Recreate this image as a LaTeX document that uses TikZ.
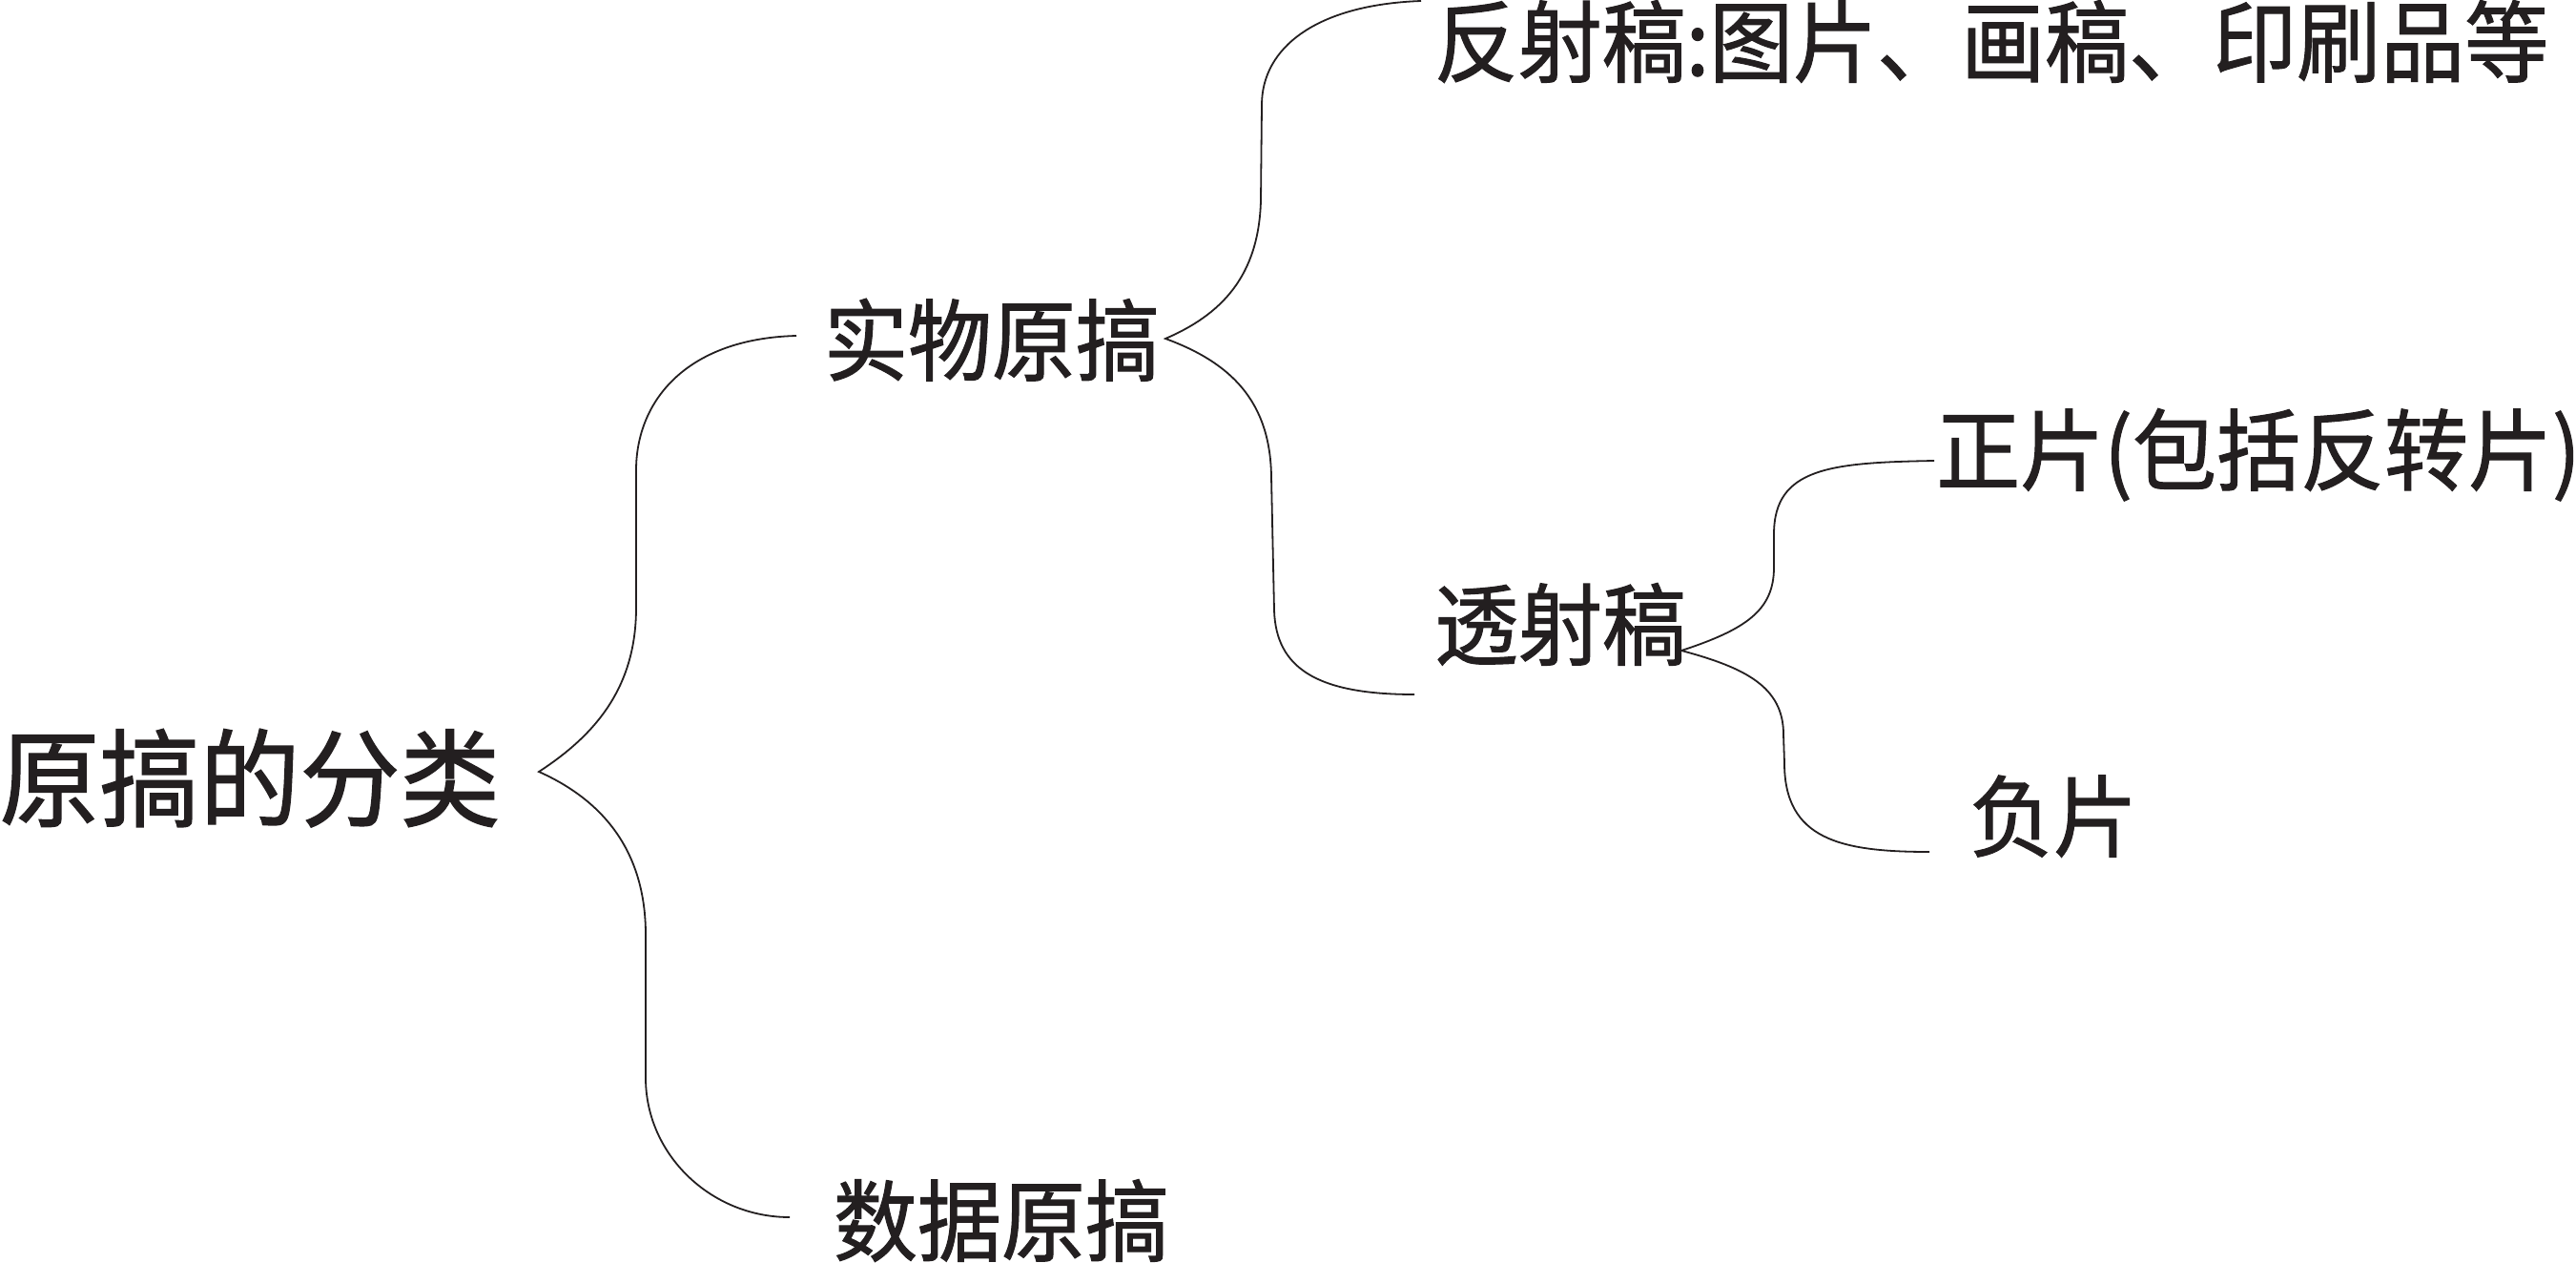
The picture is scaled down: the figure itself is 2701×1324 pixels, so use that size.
\documentclass[tikz,border=0pt]{standalone}
\usepackage{fontspec}
\setmainfont{Noto Sans CJK SC}[FakeBold=1.2]
% slightly taller glyphs than the plain font gives
\newcommand{\tallglyphs}[1]{\scalebox{1}[1.06]{#1}}
\begin{document}
\begin{tikzpicture}[x=1pt,y=-1pt,
  ink/.style={draw=inkcol,line width=1.8pt,line join=miter},
  lvlA/.style={inner sep=0pt,anchor=base,text=inkcol,font=\fontsize{105}{105}\selectfont},
  lvlB/.style={inner sep=0pt,anchor=base,text=inkcol,font=\fontsize{88}{88}\selectfont}]
\definecolor{inkcol}{HTML}{231F20}
\useasboundingbox (0,0) rectangle (2701,1324);

% labels
\node[lvlA] (root) at (262,858) {\tallglyphs{原搞的分类}};
\node[lvlB] (shiwu) at (1040,392) {\tallglyphs{实物原搞}};
\node[lvlB] (shuju) at (1050,1315) {\tallglyphs{数据原搞}};
\node[lvlB] (fanshe) at (2088,79) {\tallglyphs{反射稿:图片、画稿、印刷品等}};
\node[lvlB] (toushe) at (1636,690) {\tallglyphs{透射稿}};
\node[lvlB] (zheng) at (2368,507) {\tallglyphs{正片(包括反转片)}};
\node[lvlB] (fu) at (2153,891) {\tallglyphs{负片}};

% brace tips and free ends
\coordinate (t1) at (565,809);
\coordinate (e1a) at (835,352);
\coordinate (e1b) at (828,1276);
\coordinate (t2) at (1222,355);
\coordinate (e2a) at (1490,1);
\coordinate (e2b) at (1483,728);
\coordinate (t3) at (1763,682);
\coordinate (e3a) at (2028,483);
\coordinate (e3b) at (2023,893);

% root brace
\draw[ink] (e1a) .. controls (720,355) and (667,420) .. (667,493)
  -- (667,637) .. controls (667,720) and (625,770) .. (t1)
  .. controls (630,838) and (677,890) .. (677,980)
  -- (677,1130) .. controls (677,1210) and (745,1276) .. (e1b);

% brace of the physical originals
\draw[ink] (e2a) .. controls (1380,5) and (1323,50) .. (1323,110)
  -- (1322,210) .. controls (1320,290) and (1280,330) .. (t2)
  .. controls (1290,380) and (1332,420) .. (1333,500)
  -- (1336,640) .. controls (1338,700) and (1380,728) .. (e2b);

% brace of the transparencies
\draw[ink] (e3a) .. controls (1920,485) and (1860,490) .. (1860,560)
  -- (1860,595) .. controls (1860,640) and (1830,660) .. (t3)
  .. controls (1830,700) and (1870,720) .. (1870,770)
  -- (1871,800) .. controls (1871,880) and (1930,893) .. (e3b);
\end{tikzpicture}
\end{document}
